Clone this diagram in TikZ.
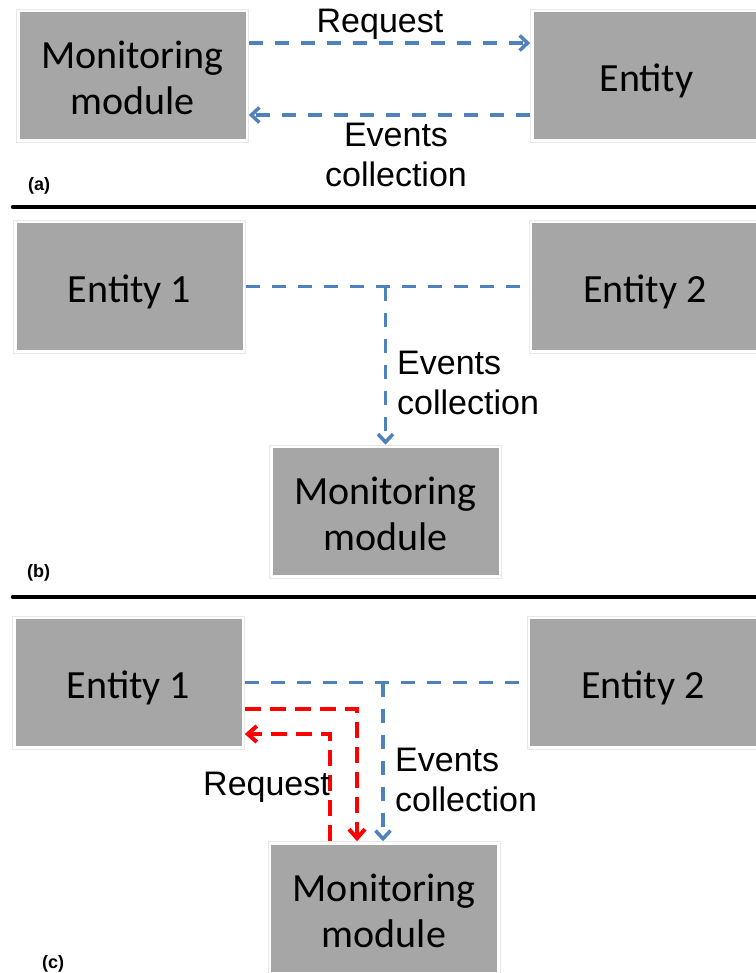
\documentclass[tikz,border=0pt]{standalone}
\usepackage{fontspec}
\setmainfont{Liberation Sans}
\newfontfamily\carlito{Carlito}
\newfontfamily\arialfont{Liberation Sans}
\usetikzlibrary{arrows.meta,shadows,calc}
\definecolor{boxgray}{HTML}{A6A6A6}
\definecolor{flowblue}{HTML}{4F81BD}
\definecolor{flowred}{HTML}{FF0000}
\newcommand\bxt[1]{\raisebox{-7pt}[\height][\depth]{\begin{tabular}{@{}c@{}}#1\end{tabular}}}
\tikzset{
  box/.style={rectangle, minimum width=232pt, minimum height=133pt, inner sep=0pt,
    fill=white, draw=black!9, line width=0.6pt,
    drop shadow={shadow xshift=0.8pt, shadow yshift=-1.3pt, fill=black, opacity=0.22},
    path picture={\fill[boxgray] ([shift={(3pt,3pt)}]path picture bounding box.south west) rectangle ([shift={(-3pt,-3pt)}]path picture bounding box.north east);},
    font=\carlito\fontsize{40}{46}\selectfont},
  lbl/.style={inner sep=0pt, font=\arialfont\fontsize{34}{40}\selectfont},
  tag/.style={inner sep=0pt, anchor=base west, font=\arialfont\bfseries\fontsize{18}{20}\selectfont},
  bluedash/.style={draw=flowblue, line width=3.5pt, dash pattern=on 14pt off 12pt},
  reddash/.style={draw=flowred, line width=4pt, dash pattern=on 16pt off 9pt},
  bluetip/.style={-{Straight Barb[length=8pt,width=15pt]}},
  redtip/.style={-{Straight Barb[length=9pt,width=16pt]}},
  sep/.style={line width=4.5pt, line cap=round, draw=black}
}
\begin{document}
\begin{tikzpicture}[x=1pt,y=-1pt]
\useasboundingbox (0,0) rectangle (755,973);
% ---------- panel (a)
\node[box] (MMa) at (132.5,75.5) {\bxt{Monitoring\\module}};
\node[box] (Enta) at (646.5,75.5) {\bxt{Entity}};
\draw[bluedash,bluetip] ([yshift=32.5pt]MMa.east) -- ([yshift=32.5pt]Enta.west);
\draw[bluedash,bluetip] ([yshift=-39.5pt]Enta.west) -- ([yshift=-39.5pt]MMa.east);
\node[lbl, anchor=base] (reqa) at (380,33) {Request};
\node[lbl, align=center] (eva) at (396,155) {Events\\collection};
\node[tag] (taga) at (28,191) {(a)};
\coordinate (s1a) at (13,207);
\coordinate (s1b) at (760,207);
\draw[sep] (s1a) -- (s1b);
% ---------- panel (b)
\node[box] (E1b) at (129.5,286.5) {\bxt{Entity 1}};
\node[box] (E2b) at (645,286.5) {\bxt{Entity 2}};
\node[box] (MMb) at (385.5,511.5) {\bxt{Monitoring\\module}};
\draw[bluedash] (E1b.east) -- (E2b.west);
\draw[bluedash,bluetip] (MMb.north |- E1b.east) -- (MMb.north);
\node[lbl, align=left, anchor=west] (evb) at (397,383) {Events\\collection};
\node[tag] (tagb) at (27,577) {(b)};
\coordinate (s2a) at (13,597);
\coordinate (s2b) at (760,597);
\draw[sep] (s2a) -- (s2b);
% ---------- panel (c)
\node[box] (E1c) at (128.5,682.5) {\bxt{Entity 1}};
\node[box] (E2c) at (643,682.5) {\bxt{Entity 2}};
\node[box] (MMc) at (384,908) {\bxt{Monitoring\\module}};
\draw[bluedash] (E1c.east) -- (E2c.west);
\draw[bluedash,bluetip] ([xshift=-1pt]MMc.north |- E1c.east) -- ([xshift=-1pt]MMc.north);
\draw[reddash,redtip] ([yshift=-26.5pt]E1c.east) -| ([xshift=-27pt]MMc.north);
\draw[reddash,redtip] ([xshift=-54pt]MMc.north) |- ([yshift=-51.5pt]E1c.east);
\node[lbl, anchor=base west] (reqc) at (203,795) {Request};
\node[lbl, align=left, anchor=west] (evc) at (395,780) {Events\\collection};
\node[tag] (tagc) at (42,968) {(c)};
\end{tikzpicture}
\end{document}
